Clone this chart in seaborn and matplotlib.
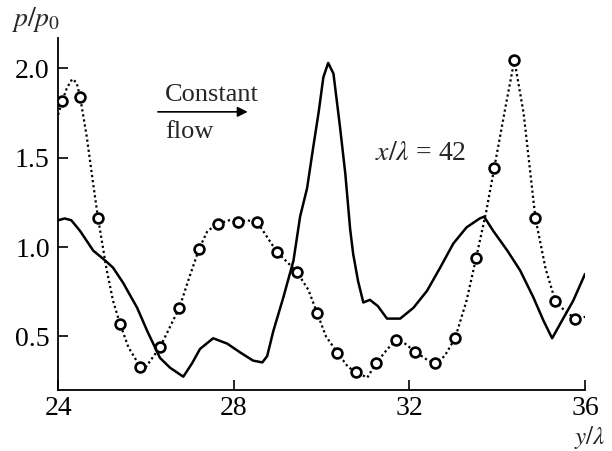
"""
Pressure profile p/p0 across y/lambda at x/lambda = 42, two cases.
"""

import matplotlib
matplotlib.use("Agg")
import matplotlib.pyplot as plt
import pandas as pd
import seaborn as sns

# solid curve
solid_y = [24.0, 24.15, 24.3, 24.5, 24.8, 25.07, 25.25, 25.48, 25.8, 26.03, 26.32, 26.55,
           26.85, 27.05, 27.23, 27.53, 27.85, 28.15, 28.44, 28.65, 28.76, 28.9, 29.13,
           29.36, 29.51, 29.67, 29.81, 29.93, 30.04, 30.15, 30.27, 30.42, 30.54, 30.65,
           30.72, 30.83, 30.95, 31.1, 31.28, 31.49, 31.79, 32.09, 32.4, 32.7, 33.0, 33.3,
           33.6, 33.7, 33.91, 34.23, 34.52, 34.82, 35.05, 35.25, 35.5, 35.73, 36.0]
solid_p = [1.15, 1.16, 1.15, 1.09, 0.98, 0.925, 0.885, 0.80, 0.66, 0.53, 0.38, 0.325,
           0.275, 0.35, 0.43, 0.49, 0.46, 0.41, 0.365, 0.355, 0.39, 0.53, 0.72,
           0.925, 1.17, 1.33, 1.56, 1.75, 1.95, 2.03, 1.97, 1.67, 1.41, 1.10,
           0.96, 0.81, 0.69, 0.705, 0.67, 0.60, 0.60, 0.66, 0.755, 0.885, 1.02, 1.11,
           1.16, 1.17, 1.09, 0.98, 0.87, 0.72, 0.59, 0.49, 0.60, 0.70, 0.85]

# dotted curve
dotted_y = [24.0, 24.09, 24.2, 24.32, 24.42, 24.5, 24.65, 24.8, 24.91, 25.1, 25.25, 25.41,
            25.6, 25.87, 26.0, 26.32, 26.5, 26.76, 27.0, 27.21, 27.4, 27.64, 27.9, 28.1,
            28.3, 28.53, 28.75, 28.99, 29.2, 29.44, 29.7, 29.9, 30.1, 30.36, 30.6,
            30.79, 31.04, 31.24, 31.5, 31.7, 31.9, 32.13, 32.4, 32.59, 32.8, 33.04,
            33.3, 33.52, 33.75, 33.93, 34.2, 34.39, 34.6, 34.87, 35.1, 35.32, 35.55,
            35.78, 36.0]
dotted_p = [1.74, 1.815, 1.89, 1.94, 1.92, 1.84, 1.62, 1.35, 1.16, 0.88, 0.70, 0.57,
            0.44, 0.33, 0.33, 0.44, 0.53, 0.66, 0.84, 0.99, 1.09, 1.13, 1.15, 1.14,
            1.15, 1.14, 1.06, 0.97, 0.92, 0.86, 0.76, 0.63, 0.50, 0.41, 0.33,
            0.30, 0.27, 0.35, 0.43, 0.48, 0.46, 0.415, 0.37, 0.35, 0.39, 0.49,
            0.70, 0.94, 1.20, 1.44, 1.80, 2.045, 1.75, 1.16, 0.88, 0.70, 0.64,
            0.60, 0.61]

# circle markers on the dotted curve
marker_y = [24.09, 24.5, 24.91, 25.41, 25.87, 26.32, 26.76, 27.21, 27.64, 28.1, 28.53,
            28.99, 29.44, 29.9, 30.36, 30.79, 31.24, 31.7, 32.13, 32.59, 33.04, 33.52,
            33.93, 34.39, 34.87, 35.32, 35.78]
marker_p = [1.815, 1.84, 1.16, 0.57, 0.33, 0.44, 0.66, 0.99, 1.13, 1.14, 1.14,
            0.97, 0.86, 0.63, 0.41, 0.30, 0.35, 0.48, 0.415, 0.35, 0.49, 0.94,
            1.44, 2.045, 1.16, 0.70, 0.60]

xticks = [24, 28, 32, 36]
yticks = [0.5, 1.0, 1.5, 2.0]

sns.set_theme(style="ticks")
plt.rcParams["font.family"] = ["Liberation Serif", "DejaVu Serif"]
plt.rcParams["mathtext.fontset"] = "stix"

solid = pd.DataFrame({"y": solid_y, "p": solid_p})
dotted = pd.DataFrame({"y": dotted_y, "p": dotted_p})
marks = pd.DataFrame({"y": marker_y, "p": marker_p})

fig = plt.figure(figsize=(6.12, 4.51), dpi=100)
ax = fig.add_axes([0.095, 0.135, 0.861, 0.781])

sns.lineplot(data=solid, x="y", y="p", ax=ax, color="black", linewidth=1.8,
             sort=False, estimator=None)
sns.lineplot(data=dotted, x="y", y="p", ax=ax, color="black", linewidth=1.6,
             linestyle=(0, (1, 1.3)), sort=False, estimator=None)
sns.scatterplot(data=marks, x="y", y="p", ax=ax, marker="o", s=50,
                facecolor="white", edgecolor="black", linewidth=1.9, zorder=3)

ax.set_xlim(24, 36)
ax.set_ylim(0.2, 2.17)
ax.set_xticks(xticks)
ax.set_xticklabels([str(t) for t in xticks])
ax.set_yticks(yticks)
ax.set_yticklabels([f"{t:.1f}" for t in yticks])
ax.tick_params(direction="in", length=7, width=1.2, labelsize=20, pad=6, colors="black")
ax.tick_params(axis="x", pad=4)
ax.set_xlabel("")
ax.set_ylabel("")
sns.despine(ax=ax)
for side in ["left", "bottom"]:
    ax.spines[side].set_linewidth(1.3)
    ax.spines[side].set_color("black")

fig.text(0.018, 0.925, r"$p/p_0$", fontsize=20, ha="left", va="bottom")
fig.text(0.99, 0.0, r"$y/\lambda$", fontsize=18, ha="right", va="bottom")
ax.text(0.203, 0.82, "Constant", transform=ax.transAxes, fontsize=19, ha="left")
ax.text(0.203, 0.715, "flow", transform=ax.transAxes, fontsize=19, ha="left")
ax.annotate("", xy=(0.365, 0.79), xytext=(0.184, 0.79), xycoords="axes fraction",
            arrowprops=dict(arrowstyle="-|>", color="black", lw=1.2, mutation_scale=15))
ax.text(0.602, 0.652, r"$x/\lambda$ = 42", transform=ax.transAxes, fontsize=20, ha="left")

fig.savefig("out.png", dpi=100)
